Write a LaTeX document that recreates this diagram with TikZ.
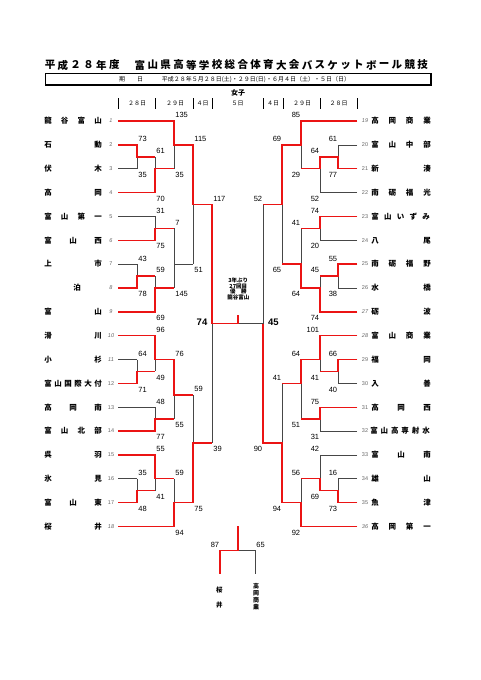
\documentclass[tikz,border=0pt]{standalone}
\usepackage{fontspec}
\setmainfont{Liberation Sans}
\newfontfamily\jp{Noto Sans CJK JP}
\definecolor{wred}{RGB}{235,20,20}
\definecolor{lgray}{RGB}{70,70,70}
\tikzset{
  lose/.style={draw=lgray, line width=0.6pt},
  win/.style={draw=wred, line width=1.4pt},
  sc/.style={inner sep=0pt, font=\fontsize{7.5}{8}\selectfont},
  lt/.style={sc, anchor=south west, xshift=1.2pt, yshift=2.8pt},
  lb/.style={sc, anchor=north west, xshift=1.2pt, yshift=-3.3pt},
  rt/.style={sc, anchor=south east, xshift=-0.7pt, yshift=2.8pt},
  rb/.style={sc, anchor=north east, xshift=-0.7pt, yshift=-3.3pt},
  tn/.style={inner sep=0pt, anchor=base, yshift=-2.85pt, font=\jp\bfseries\fontsize{7.5}{8}\selectfont},
  titlechar/.style={inner sep=0pt, anchor=center, font=\jp\bfseries\fontsize{10.5}{11}\selectfont},
  tnum/.style={inner sep=0pt, font=\fontsize{5.5}{6}\selectfont, text=black!60},
  hd/.style={inner sep=0pt, anchor=base, font=\jp\fontsize{6}{7}\selectfont},
  fin/.style={inner sep=0pt, font=\bfseries\fontsize{9.5}{10}\selectfont},
  ctr/.style={inner sep=0pt, anchor=base, font=\jp\bfseries\fontsize{5.5}{6}\selectfont},
}
\newcommand{\tname}[5]{%
  \foreach \c [count=\k] in {#5} {\node[tn] at ({#2+(\k-1)*(#3-#2)/(#4-1)},#1) {\c};}%
}
\newcommand{\halfbr}[1]{%
  \foreach \yy in {144.85,168.7,264.1,287.95,359.5,383.35,478.75,502.6} {\draw[lose] (\xz,\yy) -- (\xa,\yy);}
  \foreach \yy in {192.55,216.4,240.25,311.8,335.65,407.2,431.05,454.9} {\draw[lose] (\xz,\yy) -- (\xb,\yy);}
  \foreach \yy in {121,526.45} {\draw[lose] (\xz,\yy) -- (\xc,\yy);}
  \foreach \ya/\yb in {144.85/168.7,264.1/287.95,359.5/383.35,478.75/502.6} {\draw[lose] (\xa,\ya) -- (\xa,\yb);}
  \foreach \ya/\yb in {156.8/192.55,216.4/240.25,276/311.8,335.65/371.4,407.2/431.05,454.9/490.7} {\draw[lose] (\xb,\ya) -- (\xb,\yb);}
  \foreach \ya/\yb in {121/168.7,228.3/287.95,359.5/419.1,478.75/526.45} {\draw[lose] (\xc,\ya) -- (\xc,\yb);}
  \foreach \ya/\yb in {144.85/264.1,#1/502.6} {\draw[lose] (\xd,\ya) -- (\xd,\yb);}
  \draw[lose] (\xc,264.1) -- (\xd,264.1);
  \draw[lose] (\xc,#1) -- (\xd,#1);
  \draw[lose] (\xe,204.5) -- (\xe,443);
}
\begin{document}
\begin{tikzpicture}[x=1pt,y=-1pt]
\fill[white] (0,0) rectangle (481,680);
\useasboundingbox (0,0) rectangle (481,680);

% title
\foreach \c [count=\k from 0] in {平,成,２,８,年,度} {\node[titlechar] at ({50+\k*12.85},65) {\c};}
\foreach \c [count=\k from 7] in {富,山,県,高,等,学,校,総,合,体,育,大,会,バ,ス,ケ} {\node[titlechar] at ({50+\k*12.85},65) {\c};}
\node[titlechar] at ({50+23*12.85},66.2) {ッ};
\foreach \c [count=\k from 24] in {ト,ボ,ー,ル,競,技} {\node[titlechar] at ({50+\k*12.85},65) {\c};}

% date box
\draw[line width=0.6pt] (45,73) rectangle (431,85);
\draw[line width=1.3pt] (45,85) -- (431,85) -- (431,73);
\node[hd] (kijitsu) at (131,81.3) {期　　日};
\node[hd, anchor=base west] (dates) at (161.7,81.3) {平成２８年５月２８日(土)・２９日(日)・６月４日（土）・５日（日）};
\node[hd, font=\jp\bfseries\fontsize{7}{8}\selectfont] (joshi) at (238,95.2) {女子};

% day header
\foreach \x in {118,155,193,212,263,283,320,357} {\draw[line width=0.5pt] (\x,98.3) -- (\x,109.3);}
\node[hd] at (137,105.6) {２８日};
\node[hd] at (175,105.6) {２９日};
\node[hd] at (202.5,105.6) {４日};
\node[hd] at (237.5,105.6) {５日};
\node[hd] at (273,105.6) {４日};
\node[hd] at (302,105.6) {２９日};
\node[hd] at (338.5,105.6) {２８日};

% bracket skeleton (black)
\def\xz{118}\def\xa{137}\def\xb{155}\def\xc{174}\def\xd{193}\def\xe{212}
\halfbr{395}
\def\xz{357}\def\xa{338}\def\xb{320}\def\xc{301}\def\xd{282}\def\xe{263}
\halfbr{383.35}
\draw[lose] (263,323.5) -- (238,323.5);
\draw[lose] (238,550.7) -- (255,550.7) -- (255,574);

% winning paths (red)
\draw[win] (118,121) -- (174,121) -- (174,144.85) -- (193,144.85) -- (193,204.5) -- (212,204.5) -- (212,323.5) -- (238,323.5) -- (238,315);
\draw[win] (118,144.85) -- (137,144.85) -- (137,156.8) -- (155,156.8);
\draw[win] (118,192.55) -- (155,192.55) -- (155,168.7) -- (174,168.7);
\draw[win] (118,240.25) -- (155,240.25) -- (155,228.3) -- (174,228.3);
\draw[win] (118,287.95) -- (137,287.95) -- (137,276) -- (155,276);
\draw[win] (118,311.8) -- (155,311.8) -- (155,287.95) -- (174,287.95);
\draw[win] (118,335.65) -- (155,335.65) -- (155,359.5) -- (174,359.5) -- (174,395) -- (193,395);
\draw[win] (118,383.35) -- (137,383.35) -- (137,371.4) -- (155,371.4);
\draw[win] (118,431.05) -- (155,431.05) -- (155,419.1) -- (174,419.1);
\draw[win] (118,454.9) -- (155,454.9) -- (155,478.75) -- (174,478.75);
\draw[win] (118,502.6) -- (137,502.6) -- (137,490.7) -- (155,490.7);
\draw[win] (118,526.45) -- (174,526.45) -- (174,502.6) -- (193,502.6) -- (193,443) -- (212,443);

\draw[win] (357,121) -- (301,121) -- (301,144.85) -- (282,144.85) -- (282,204.5) -- (263,204.5);
\draw[win] (357,168.7) -- (338,168.7) -- (338,156.8) -- (320,156.8) -- (320,168.7) -- (301,168.7);
\draw[win] (357,216.4) -- (320,216.4) -- (320,228.3) -- (301,228.3);
\draw[win] (357,264.1) -- (338,264.1) -- (338,276) -- (320,276);
\draw[win] (357,311.8) -- (320,311.8) -- (320,287.95) -- (301,287.95) -- (301,264.1) -- (282,264.1);
\draw[win] (357,335.65) -- (320,335.65) -- (320,359.5) -- (301,359.5) -- (301,383.35) -- (282,383.35);
\draw[win] (357,359.5) -- (338,359.5) -- (338,371.4) -- (320,371.4);
\draw[win] (357,407.2) -- (320,407.2) -- (320,419.1) -- (301,419.1);
\draw[win] (357,502.6) -- (338,502.6) -- (338,490.7) -- (320,490.7) -- (320,478.75) -- (301,478.75);
\draw[win] (357,526.45) -- (301,526.45) -- (301,502.6) -- (282,502.6) -- (282,443) -- (263,443) -- (263,323.5);
\draw[win] (238,526.45) -- (238,550.7) -- (220,550.7) -- (220,574);

% team numbers
\foreach \i in {2,3,4,5,7,12,13,14,15,16,17} {\node[tnum] at (111,{121+(\i-1)*23.85}) {\i};}
\foreach \i in {1,6,8,9,10,11,18} {\node[tnum, font=\itshape\fontsize{5.5}{6}\selectfont] at (111,{121+(\i-1)*23.85}) {\i};}
\foreach \i in {20,21,22,23,24,25,26,29,30,31,32,33,34,35} {\node[tnum] at (365,{121+(\i-19)*23.85}) {\i};}
\foreach \i in {19,27,28,36} {\node[tnum, font=\itshape\fontsize{5.5}{6}\selectfont] at (365,{121+(\i-19)*23.85}) {\i};}

% team names left
\tname{121}{48}{98}{4}{龍,谷,富,山}
\tname{144.85}{48}{98}{2}{石,動}
\tname{168.7}{48}{98}{2}{伏,木}
\tname{192.55}{48}{98}{2}{高,岡}
\tname{216.4}{48}{98}{4}{富,山,第,一}
\tname{240.25}{48}{98}{3}{富,山,西}
\tname{264.1}{48}{98}{2}{上,市}
\node[tn] at (77,287.95) {泊};
\tname{311.8}{48}{98}{2}{富,山}
\tname{335.65}{48}{98}{2}{滑,川}
\tname{359.5}{48}{98}{2}{小,杉}
\tname{383.35}{48}{98}{6}{富,山,国,際,大,付}
\tname{407.2}{48}{98}{3}{高,岡,南}
\tname{431.05}{48}{98}{4}{富,山,北,部}
\tname{454.9}{48}{98}{2}{呉,羽}
\tname{478.75}{48}{98}{2}{氷,見}
\tname{502.6}{48}{98}{3}{富,山,東}
\tname{526.45}{48}{98}{2}{桜,井}
% team names right
\tname{121}{375}{427}{4}{高,岡,商,業}
\tname{144.85}{375}{427}{4}{富,山,中,部}
\tname{168.7}{375}{427}{2}{新,湊}
\tname{192.55}{375}{427}{4}{南,砺,福,光}
\tname{216.4}{375}{426}{5}{富,山,い,ず,み}
\tname{240.25}{375}{427}{2}{八,尾}
\tname{264.1}{375}{427}{4}{南,砺,福,野}
\tname{287.95}{375}{427}{2}{水,橋}
\tname{311.8}{375}{427}{2}{砺,波}
\tname{335.65}{375}{427}{4}{富,山,商,業}
\tname{359.5}{375}{427}{2}{福,岡}
\tname{383.35}{375}{427}{2}{入,善}
\tname{407.2}{375}{427}{3}{高,岡,西}
\tname{431.05}{374}{426}{6}{富,山,高,専,射,水}
\tname{454.9}{375}{427}{3}{富,山,南}
\tname{478.75}{375}{427}{2}{雄,山}
\tname{502.6}{375}{427}{2}{魚,津}
\tname{526.45}{375}{427}{4}{高,岡,第,一}

% scores left
\node[lt] at (174,121) {135};
\node[lb] at (174,168.7) {35};
\node[lt] at (193,144.85) {115};
\node[lb] at (193,264.1) {51};
\node[lt] at (212,204.5) {117};
\node[lb] at (212,443) {39};
\node[lt] at (137,144.85) {73};
\node[lb] at (137,168.7) {35};
\node[lt] at (155,156.8) {61};
\node[lb] at (155,192.55) {70};
\node[lt] at (155,216.4) {31};
\node[lb] at (155,240.25) {75};
\node[lt] at (174,228.3) {7};
\node[lb] at (174,287.95) {145};
\node[lt] at (137,264.1) {43};
\node[lb] at (137,287.95) {78};
\node[lt] at (155,276) {59};
\node[lb] at (155,311.8) {69};
\node[lt] at (155,335.65) {96};
\node[lb] at (155,371.4) {49};
\node[lt] at (137,359.5) {64};
\node[lb] at (137,383.35) {71};
\node[lt] at (174,359.5) {76};
\node[lb] at (174,419.1) {55};
\node[lt] at (155,407.2) {48};
\node[lb] at (155,431.05) {77};
\node[lt] at (193,395) {59};
\node[lb] at (193,502.6) {75};
\node[lt] at (155,454.9) {55};
\node[lb] at (155,490.7) {41};
\node[lt] at (137,478.75) {35};
\node[lb] at (137,502.6) {48};
\node[lt] at (174,478.75) {59};
\node[lb] at (174,526.45) {94};
% scores right
\node[rt] at (301,121) {85};
\node[rb] at (301,168.7) {29};
\node[rt] at (282,144.85) {69};
\node[rb] at (282,264.1) {65};
\node[rt] at (263,204.5) {52};
\node[rb] at (263,443) {90};
\node[rt] at (338,144.85) {61};
\node[rb] at (338,168.7) {77};
\node[rt] at (320,156.8) {64};
\node[rb] at (320,192.55) {52};
\node[rt] at (320,216.4) {74};
\node[rb] at (320,240.25) {20};
\node[rt] at (301,228.3) {41};
\node[rb] at (301,287.95) {64};
\node[rt] at (338,264.1) {55};
\node[rb] at (338,287.95) {38};
\node[rt] at (320,276) {45};
\node[rb] at (320,311.8) {74};
\node[rt] at (320,335.65) {101};
\node[rb] at (320,371.4) {41};
\node[rt] at (338,359.5) {66};
\node[rb] at (338,383.35) {40};
\node[rt] at (301,359.5) {64};
\node[rb] at (301,419.1) {51};
\node[rt] at (320,407.2) {75};
\node[rb] at (320,431.05) {31};
\node[rt] at (282,383.35) {41};
\node[rb] at (282,502.6) {94};
\node[rt] at (320,454.9) {42};
\node[rb] at (320,490.7) {69};
\node[rt] at (338,478.75) {16};
\node[rb] at (338,502.6) {73};
\node[rt] at (301,478.75) {56};
\node[rb] at (301,526.45) {92};

% final
\node[fin, anchor=east] (f74) at (207.5,322) {74};
\node[fin, anchor=west] (f45) at (268,322) {45};
\node[ctr] at (238.3,282.8) {3年ぶり};
\node[ctr] at (238.3,288.3) {27回目};
\node[ctr] at (238.3,293.9) {優　勝};
\node[ctr] at (238.3,299.4) {龍谷富山};

% extra match
\node[rt] at (220,550.7) {87};
\node[lt] at (255,550.7) {65};
\node[tn, font=\jp\bfseries\fontsize{6.5}{7}\selectfont, yshift=0.35pt] at (219.3,590) {桜};
\node[tn, font=\jp\bfseries\fontsize{6.5}{7}\selectfont, yshift=0.35pt] at (219.3,605) {井};
\foreach \c [count=\k from 0] in {高,岡,商,業} {\node[tn, font=\jp\bfseries\fontsize{6}{6}\selectfont, yshift=0.6pt] at (256,{586+\k*7.1}) {\c};}
\end{tikzpicture}
\end{document}
